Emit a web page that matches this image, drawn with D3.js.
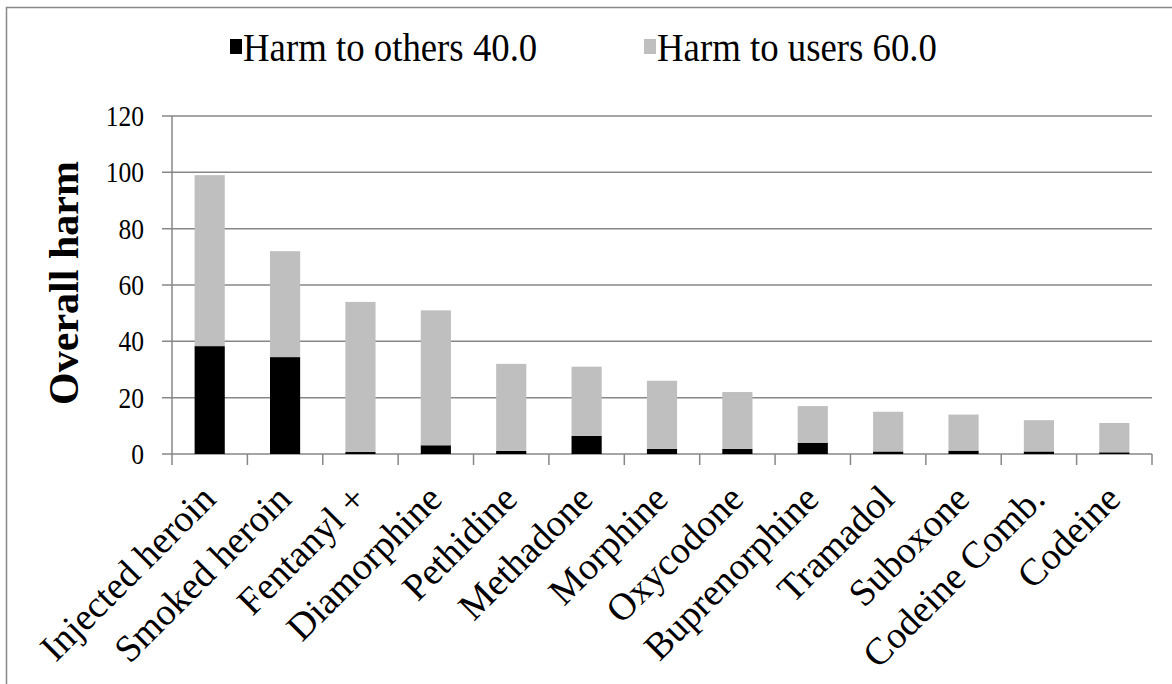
<!DOCTYPE html>
<html>
<head>
<meta charset="utf-8">
<script src="https://cdn.jsdelivr.net/npm/d3@7"></script>
<style>
  body { margin: 0; background: #fff; }
</style>
</head>
<body>
<svg id="chart" width="1172" height="684"></svg>
<script>
// drug categories and harm scores
var drugs = ["Injected heroin", "Smoked heroin", "Fentanyl +", "Diamorphine", "Pethidine",
             "Methadone", "Morphine", "Oxycodone", "Buprenorphine", "Tramadol",
             "Suboxone", "Codeine Comb.", "Codeine"];
var harmOthers = [38.3, 34.4, 0.7, 3.1, 1.1, 6.4, 1.8, 1.8, 4.0, 0.9, 1.2, 0.9, 0.6];
var harmUsers = [60.7, 37.6, 53.3, 47.9, 30.9, 24.6, 24.2, 20.2, 13.0, 14.1, 12.8, 11.1, 10.4];
var seriesNames = ["Harm to others 40.0", "Harm to users 60.0"];
var yTicks = [0, 20, 40, 60, 80, 100, 120];

var margin = {top: 116, right: 20, bottom: 230, left: 172},
    width = 1152 - margin.left,
    height = 454 - margin.top;

var svg = d3.select("#chart")
  .attr("font-family", "'Liberation Serif', 'Times New Roman', serif");

// outer frame
svg.append("rect")
  .attr("x", 6.5).attr("y", 7.5)
  .attr("width", 1200).attr("height", 700)
  .attr("fill", "none")
  .attr("stroke", "#888")
  .attr("stroke-width", 1.5);

let g = svg.append("g")
  .attr("transform", "translate(" + margin.left + "," + margin.top + ")");

const x = d3.scaleBand()
  .domain(drugs)
  .range([0, width])
  .paddingInner(0.6)
  .paddingOuter(0.3);

const y = d3.scaleLinear()
  .domain([0, 120])
  .range([height, 0]);

// gridlines
g.selectAll("line.grid")
  .data(yTicks)
  .enter()
    .append("line")
    .attr("class", "grid")
    .attr("x1", -10)
    .attr("x2", width)
    .attr("y1", d => y(d))
    .attr("y2", d => y(d))
    .attr("stroke", "#878787")
    .attr("stroke-width", 1.5);

// y axis labels (slightly condensed like the original)
g.selectAll("text.ytick")
  .data(yTicks)
  .enter()
    .append("text")
    .attr("class", "ytick")
    .attr("transform", d => "translate(-28," + y(d) + ") scale(0.88,1)")
    .attr("dy", "0.35em")
    .style("text-anchor", "end")
    .style("font-size", "29px")
    .text(d => d);

g.append("line")
  .attr("x1", 0).attr("x2", 0)
  .attr("y1", 0).attr("y2", height)
  .attr("stroke", "#878787")
  .attr("stroke-width", 1.5);

// stacked bars
const rows = drugs.map((d, i) => ({drug: d, others: harmOthers[i], users: harmUsers[i]}));
const stack = d3.stack().keys(["others", "users"])(rows);
const colors = ["#000000", "#bfbfbf"];

g.selectAll("g.layer")
  .data(stack)
  .enter()
    .append("g")
    .attr("class", "layer")
    .attr("fill", (d, i) => colors[i])
    .selectAll("rect")
    .data(d => d)
    .enter()
      .append("rect")
      .attr("x", d => x(d.data.drug))
      .attr("y", d => y(d[1]))
      .attr("width", x.bandwidth())
      .attr("height", d => y(d[0]) - y(d[1]));

// category ticks
g.selectAll("line.xtick")
  .data(d3.range(drugs.length + 1))
  .enter()
    .append("line")
    .attr("x1", d => d * width / drugs.length)
    .attr("x2", d => d * width / drugs.length)
    .attr("y1", height)
    .attr("y2", height + 11)
    .attr("stroke", "#878787")
    .attr("stroke-width", 1.5);

g.selectAll("text.xlab")
  .data(drugs)
  .enter()
    .append("text")
    .attr("class", "xlab")
    .attr("transform", d => "translate(" + (x(d) + x.bandwidth() / 2 + 8) + "," + (height + 47) + ") rotate(-45)")
    .style("text-anchor", "end")
    .style("font-size", "38px")
    .text(d => d);

// axis title
svg.append("text")
  .attr("transform", "translate(78,283) rotate(-90)")
  .style("text-anchor", "middle")
  .style("font-size", "42px")
  .style("font-weight", "bold")
  .text("Overall harm");

// legend
const legend = svg.append("g")
  .attr("transform", "translate(0,47)");

const legendX = [230, 644];
legend.selectAll("rect")
  .data(seriesNames)
  .enter()
    .append("rect")
    .attr("x", (d, i) => legendX[i])
    .attr("y", -8)
    .attr("width", 12)
    .attr("height", 15)
    .attr("fill", (d, i) => colors[i]);

legend.selectAll("text")
  .data(seriesNames)
  .enter()
    .append("text")
    .attr("transform", (d, i) => "translate(" + (legendX[i] + 13) + ",0) scale(0.92,1)")
    .attr("dy", "0.35em")
    .style("font-size", "40px")
    .text(d => d);
</script>
</body>
</html>
